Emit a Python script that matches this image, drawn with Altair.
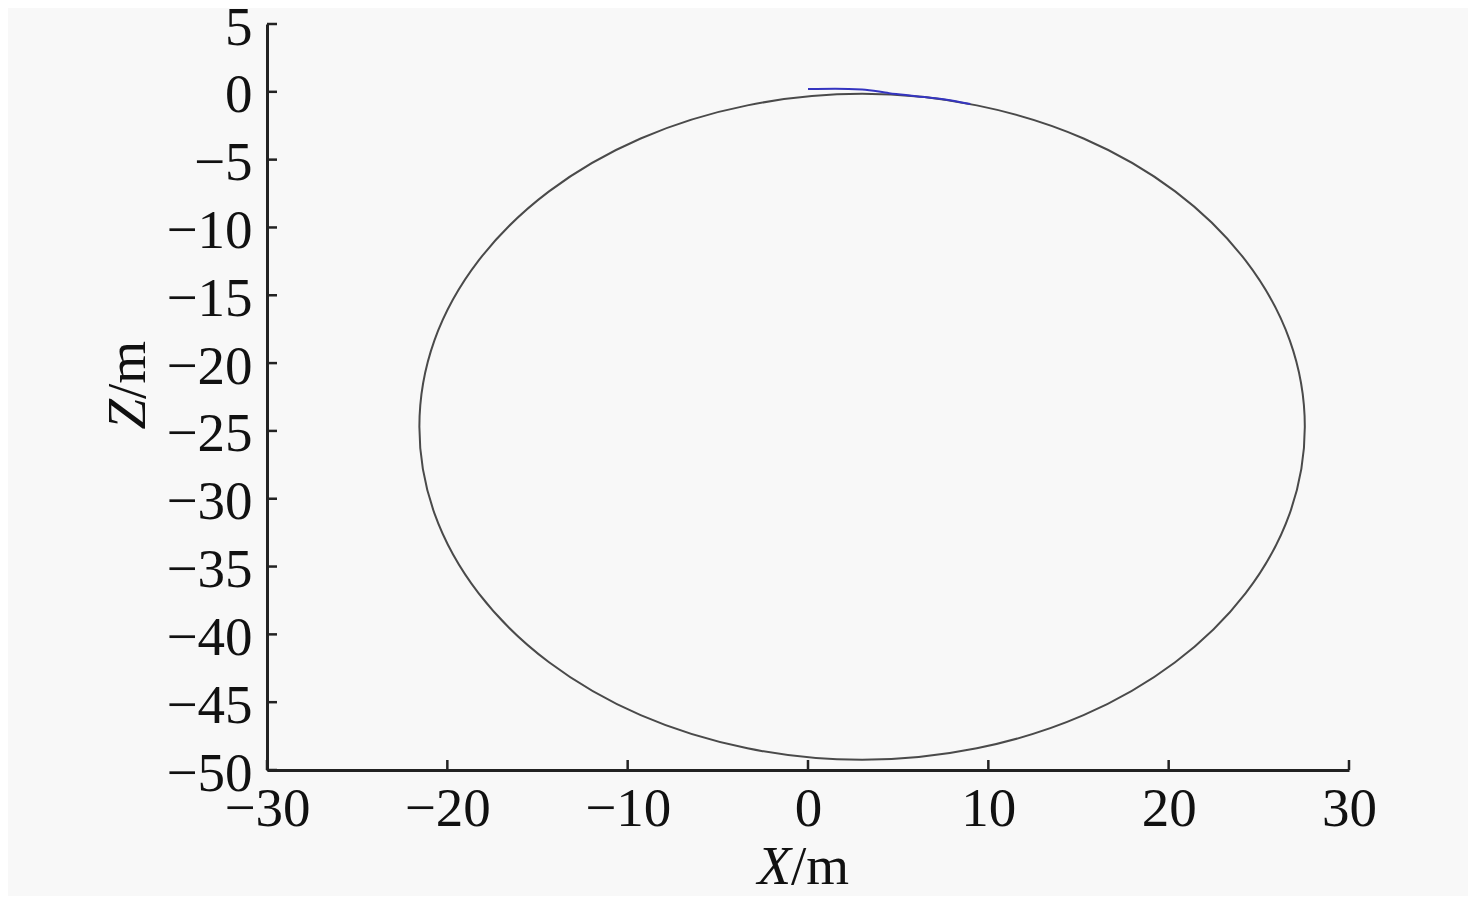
import altair as alt
import pandas as pd

# Circle trajectory (X, Z in m)
circle_x = [27.55, 26.72, 24.26, 20.36, 15.28, 9.36, 3.0, -3.36, -9.28, -14.36, -18.26, -20.72,
            -21.55, -20.72, -18.26, -14.36, -9.28, -3.36, 3.0, 9.36, 15.28, 20.36, 24.26, 26.72]
circle_z = [-24.7, -18.34, -12.43, -7.34, -3.44, -1.0, -0.15, -1.0, -3.44, -7.34, -12.43, -18.34,
            -24.7, -31.06, -36.98, -42.06, -45.96, -48.4, -49.25, -48.4, -45.96, -42.06, -36.98, -31.06]

# Blue start-up segment
blue_x = [0.0, 1.5, 3.0, 4.5, 6.0, 7.5, 9.0]
blue_z = [0.2, 0.22, 0.18, -0.1, -0.32, -0.55, -0.9]

x_ticks = [-30, -20, -10, 0, 10, 20, 30]
y_ticks = [5, 0, -5, -10, -15, -20, -25, -30, -35, -40, -45, -50]

W, H = 1082, 746
FONT = "Liberation Serif"
FS = 55

circle_df = pd.DataFrame({"x": circle_x, "z": circle_z, "i": range(len(circle_x))})
blue_df = pd.DataFrame({"x": blue_x, "z": blue_z, "i": range(len(blue_x))})

xs = alt.Scale(domain=[-30, 30], nice=False, zero=False)
ys = alt.Scale(domain=[-50, 5], nice=False, zero=False)

xaxis = alt.Axis(values=x_ticks, title=None, ticks=False, domain=True, domainColor="#222",
                 domainWidth=3, labelFont=FONT, labelFontSize=FS, labelColor="#111",
                 labelPadding=12, grid=False, labelFlush=False,
                 labelExpr="replace(datum.label, '-', '−')")
yaxis = alt.Axis(values=y_ticks, title=None, ticks=False, domain=True, domainColor="#222",
                 domainWidth=3, labelFont=FONT, labelFontSize=FS, labelColor="#111",
                 labelPadding=15, grid=False, labelBaseline="middle", labelFlush=False,
                 labelOffset=3, labelExpr="replace(datum.label, '-', '−')")

circle = alt.Chart(circle_df).mark_line(interpolate="cardinal-closed", color="#4a4a4a", strokeWidth=2).encode(
    x=alt.X("x:Q", scale=xs, axis=xaxis),
    y=alt.Y("z:Q", scale=ys, axis=yaxis),
    order="i:Q",
)

blue = alt.Chart(blue_df).mark_line(interpolate="monotone", color="#3535c0", strokeWidth=2).encode(
    x=alt.X("x:Q", scale=xs),
    y=alt.Y("z:Q", scale=ys),
    order="i:Q",
)

xt_df = pd.DataFrame({"x": x_ticks})
yt_df = pd.DataFrame({"y": y_ticks})

xtick = alt.Chart(xt_df).mark_rule(color="#222", strokeWidth=2.5).encode(
    x=alt.X("x:Q", scale=xs), y=alt.value(H), y2=alt.value(H - 10))
ytick = alt.Chart(yt_df).mark_rule(color="#222", strokeWidth=2.5).encode(
    y=alt.Y("y:Q", scale=ys), x=alt.value(0), x2=alt.value(10))

one = alt.Data(values=[{"a": 1}])
xt1 = alt.Chart(one).mark_text(font=FONT, fontSize=FS, fontStyle="italic", align="right",
                               baseline="alphabetic", color="#111").encode(
    x=alt.value(524), y=alt.value(860), text=alt.value("X"))
xt2 = alt.Chart(one).mark_text(font=FONT, fontSize=FS, align="left",
                               baseline="alphabetic", color="#111").encode(
    x=alt.value(524), y=alt.value(860), text=alt.value("/m"))
yt1 = alt.Chart(one).mark_text(font=FONT, fontSize=FS, fontStyle="italic", align="right", angle=270,
                               baseline="alphabetic", color="#111").encode(
    x=alt.value(-122), y=alt.value(375), text=alt.value("Z"))
yt2 = alt.Chart(one).mark_text(font=FONT, fontSize=FS, align="left", angle=270,
                               baseline="alphabetic", color="#111").encode(
    x=alt.value(-122), y=alt.value(375), text=alt.value("/m"))

chart = alt.layer(circle, blue, xtick, ytick, xt1, xt2, yt1, yt2).properties(
    width=W, height=H,
    background="#f8f8f8",
    autosize=alt.AutoSizeParams(type="none"),
    padding={"left": 259, "top": 16, "right": 119, "bottom": 126},
).configure_view(stroke=None)

chart.save("out.html", embed_options={"renderer": "svg", "actions": False})
